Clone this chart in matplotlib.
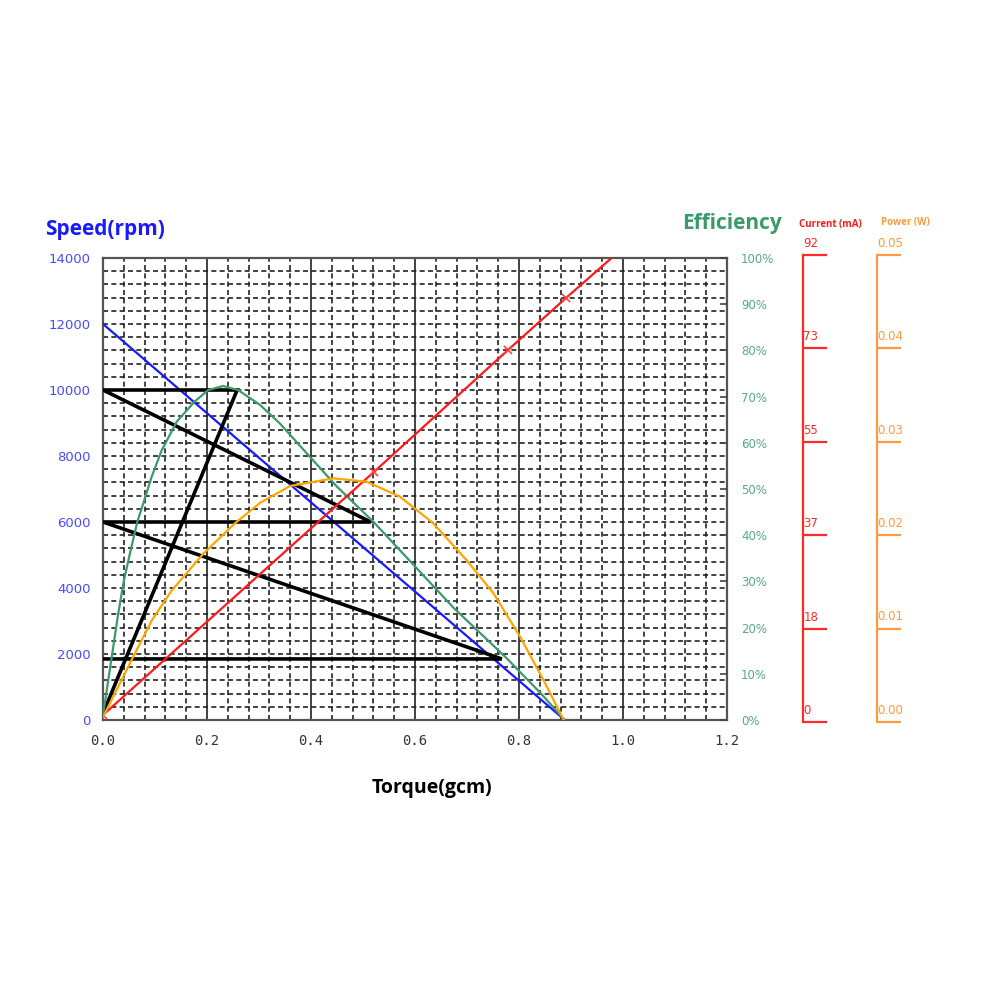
import numpy as np
import matplotlib
matplotlib.use("Agg")
import matplotlib.pyplot as plt
from matplotlib.ticker import MultipleLocator

# ---------------- data ----------------
speed_torque = [0.0, 0.888]
speed_rpm = [12000, 0]

current_torque = [0.0, 0.521, 0.779, 0.890, 0.978]
current_ma = [1.0, 49.4, 73.7, 84.0, 92.0]
current_marked = [0.0, 0.521, 0.779, 0.890]
current_marked_ma = [1.0, 49.4, 73.7, 84.0]

eff_torque = [0.0, 0.0102, 0.0198, 0.0294, 0.0404, 0.0519, 0.066, 0.0775,
              0.0937, 0.113, 0.142, 0.176, 0.202, 0.231, 0.260, 0.302, 0.340,
              0.392, 0.450, 0.520, 0.597, 0.674, 0.776, 0.840, 0.888]
eff_pct = [1.0, 8.7, 15.9, 23.1, 30.3, 36.1, 42.9, 46.9,
           52.7, 58.4, 64.6, 68.9, 71.4, 72.3, 71.4, 68.2, 64.2,
           57.7, 50.5, 42.9, 33.6, 24.3, 13.4, 6.0, 0.0]

power_torque = [0.0, 0.055, 0.094, 0.132, 0.193, 0.254, 0.302, 0.360, 0.443,
                0.507, 0.571, 0.635, 0.699, 0.751, 0.802, 0.847, 0.886]
power_w = [0.0003, 0.0065, 0.0108, 0.0140, 0.0180, 0.0213, 0.0235, 0.02533,
           0.02615, 0.02579, 0.02417, 0.02129, 0.01731, 0.01371, 0.00902,
           0.00433, 0.0]

# operating-point zigzag (torque, speed)
op_torque = [0.0, 0.258, 0.0, 0.515, 0.0, 0.767, 0.0]
op_speed = [200, 10000, 10000, 6000, 6000, 1850, 1850]

speed_ticks = [0, 2000, 4000, 6000, 8000, 10000, 12000, 14000]
torque_ticks = [0.0, 0.2, 0.4, 0.6, 0.8, 1.0, 1.2]
torque_labels = ["0.0", "0.2", "0.4", "0.6", "0.8", "1.0", "1.2"]
eff_ticks = [0, 10, 20, 30, 40, 50, 60, 70, 80, 90, 100]
current_labels = ["0", "18", "37", "55", "73", "92"]
power_labels = ["0.00", "0.01", "0.02", "0.03", "0.04", "0.05"]

# ---------------- figure ----------------
W = H = 990
fig = plt.figure(figsize=(9.9, 9.9), dpi=100)
fig.patch.set_facecolor("white")

def frac_rect(l, t, r, b):
    return [l / W, 1 - b / H, (r - l) / W, (b - t) / H]

ax = fig.add_axes(frac_rect(103, 258, 727, 720))
ax.set_xlim(0, 1.2)
ax.set_ylim(0, 14000)

# grid
ax.xaxis.set_major_locator(MultipleLocator(0.2))
ax.xaxis.set_minor_locator(MultipleLocator(0.04))
ax.yaxis.set_major_locator(MultipleLocator(2000))
ax.yaxis.set_minor_locator(MultipleLocator(400))
ax.grid(True, which="major", axis="x", color="#333333", lw=1.3, ls="-")
ax.grid(True, which="minor", axis="x", color="#222222", lw=1.2, ls=(0, (3, 2)))
ax.grid(True, which="both", axis="y", color="#222222", lw=1.2, ls=(0, (3, 2)))
ax.set_axisbelow(True)
for s in ax.spines.values():
    s.set_color("#555555")
    s.set_linewidth(1.6)

ax.set_yticks(speed_ticks)
ax.set_yticklabels([str(v) for v in speed_ticks])
ax.set_xticks(torque_ticks)
ax.set_xticklabels(torque_labels)
ax.tick_params(axis="y", which="both", length=0, labelsize=9.5, labelcolor="#4a4aff", pad=9)
ax.tick_params(axis="x", which="both", length=0, labelsize=10, labelcolor="#333344", pad=10)
for t in ax.get_xticklabels():
    t.set_family("DejaVu Sans Mono")

# speed & operating lines
ax.plot(speed_torque, speed_rpm, color="#1a1aff", lw=1.6, zorder=5)
ax.plot(op_torque, op_speed, color="black", lw=2.6, zorder=6, solid_joinstyle="miter")

# efficiency axis (right spine of main plot)
ax_e = ax.twinx()
ax_e.set_ylim(0, 100)
ax_e.set_yticks(eff_ticks)
ax_e.set_yticklabels([f"{v}%" for v in eff_ticks])
ax_e.tick_params(axis="y", direction="in", length=5, width=1.2, color="#444444",
                 labelsize=8.5, labelcolor="#5aa882", pad=10)
for s in ax_e.spines.values():
    s.set_visible(False)
ax_e.plot(eff_torque, eff_pct, color="#3a9a6a", lw=1.6, zorder=5)

# current axis
ax_c = fig.add_axes(frac_rect(803, 255, 900, 722))
ax_c.set_xlim(0, 1)
ax_c.set_ylim(0, 92)
ax_c.patch.set_alpha(0)
for k in ["top", "right", "bottom"]:
    ax_c.spines[k].set_visible(False)
ax_c.spines["left"].set_color("#ff2a2a")
ax_c.spines["left"].set_linewidth(1.6)
ax_c.set_xticks([])
cur_pos = np.linspace(0, 92, len(current_labels))
ax_c.set_yticks(cur_pos)
ax_c.set_yticklabels([])
ax_c.tick_params(axis="y", direction="in", length=17, width=1.6, color="#ff2a2a")
for p, lab in zip(cur_pos, current_labels):
    ax_c.text(0.005, p + 1.0, lab, color="#ff2a2a", fontsize=8.5, ha="left", va="bottom")

# power axis
ax_p = fig.add_axes(frac_rect(877, 255, 960, 722))
ax_p.set_xlim(0, 1)
ax_p.set_ylim(0, 0.05)
ax_p.patch.set_alpha(0)
for k in ["top", "right", "bottom"]:
    ax_p.spines[k].set_visible(False)
ax_p.spines["left"].set_color("#ff9a40")
ax_p.spines["left"].set_linewidth(1.6)
ax_p.set_xticks([])
pow_pos = np.linspace(0, 0.05, len(power_labels))
ax_p.set_yticks(pow_pos)
ax_p.set_yticklabels([])
ax_p.tick_params(axis="y", direction="in", length=17, width=1.6, color="#ff9a40")
for p, lab in zip(pow_pos, power_labels):
    ax_p.text(0.005, p + 0.00055, lab, color="#ff9a40", fontsize=8.5, ha="left", va="bottom")

# current and power curves on their own scales over the main plot
ax_cur = ax.twinx()
ax_cur.set_ylim(0, 92)
ax_cur.axis("off")
ax_cur.plot(current_torque, current_ma, color="#ff1a1a", lw=1.6, zorder=5)
ax_cur.plot(current_marked, current_marked_ma, ls="none", marker="x", ms=6,
            mew=1.2, color="#ff4040", zorder=6)

ax_pow = ax.twinx()
ax_pow.set_ylim(0, 0.05)
ax_pow.axis("off")
ax_pow.plot(power_torque, power_w, color="#ffa500", lw=1.6, zorder=5)

# titles / labels
fig.text(45 / W, 1 - 230 / H, "Speed(rpm)", color="#1a1aff", fontsize=15,
         fontweight="bold", ha="left", va="center", family="Open Sans")
fig.text(682 / W, 1 - 223 / H, "Efficiency", color="#3a9a6a", fontsize=15,
         fontweight="bold", ha="left", va="center", family="Open Sans")
fig.text(799 / W, 1 - 224 / H, "Current (mA)", color="#ff1a1a", fontsize=7,
         fontweight="bold", ha="left", va="center", family="Open Sans")
fig.text(881 / W, 1 - 222 / H, "Power (W)", color="#ff9a40", fontsize=7,
         fontweight="bold", ha="left", va="center", family="Open Sans")
fig.text(432 / W, 1 - 788 / H, "Torque(gcm)", color="black", fontsize=14,
         fontweight="bold", ha="center", va="center", family="Open Sans")

fig.savefig("out.png", dpi=100, facecolor="white")
